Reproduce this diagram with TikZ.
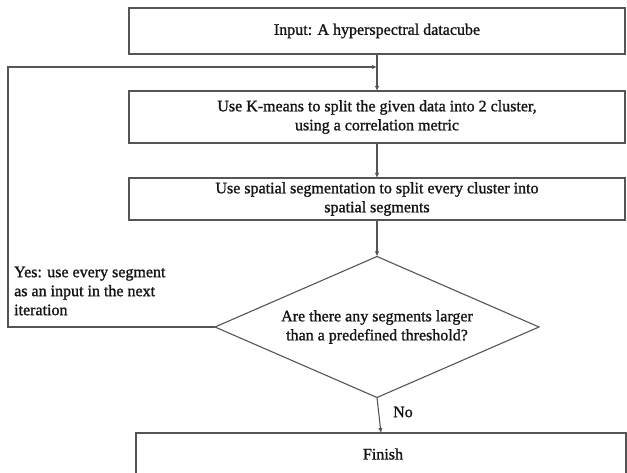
\documentclass[tikz,border=0pt]{standalone}
\usepackage{fontspec}
\setmainfont{Liberation Serif}[FakeBold=1.2]
\usetikzlibrary{shapes.geometric,arrows.meta}
\definecolor{linec}{RGB}{85,85,85}
\definecolor{textc}{RGB}{20,20,20}
\tikzset{
  every node/.style={font=\fontsize{16}{19}\selectfont, text=textc},
  procbox/.style={draw=linec, line width=1.4pt, minimum width=496pt, inner sep=0pt, outer sep=0pt, align=center},
  decision/.style={diamond, draw=linec, line width=1.1pt, minimum width=324pt, minimum height=141pt, aspect=2.3, inner sep=0pt, outer sep=0pt, align=center},
  conn/.style={draw=linec, line width=1.1pt, -{Latex[length=5pt,width=4.5pt]}},
  lbl/.style={inner sep=0pt, align=left}
}
\begin{document}
\begin{tikzpicture}[x=1pt,y=-1pt]
\useasboundingbox (0,0) rectangle (627,473);
\node[procbox, minimum height=46pt] (input) at (377,31) {Input: A hyperspectral datacube};
\node[procbox, minimum height=52pt] (kmeans) at (377,117) {Use K-means to split the given data into 2 cluster,\\using a correlation metric};
\node[procbox, minimum height=42pt] (spatial) at (377,199) {Use spatial segmentation to split every cluster into\\spatial segments};
\node[decision] (dec) at (377,327) {Are there any segments larger\\than a predefined threshold?};
\node[procbox, minimum width=490pt, minimum height=46pt] (finish) at (381,456) {};
\node[inner sep=0pt] (finishtxt) at (383,454) {Finish};
\coordinate (join) at (377,67);
\coordinate (leftbot) at (8,327);
\coordinate (lefttop) at (8,67);
\draw[conn] (input.south) -- (kmeans.north);
\draw[conn] (kmeans.south) -- (spatial.north);
\draw[conn] (spatial.south) -- (dec.north);
\draw[conn] (dec.south) -- (finish.north);
\draw[conn] (dec.west) -- (leftbot) -- (lefttop) -- (join);
\node[lbl, anchor=west] (yes) at (14,291) {Yes: use every segment\\as an input in the next\\iteration};
\node[lbl, anchor=west] (no) at (393,412) {No};
\end{tikzpicture}
\end{document}
